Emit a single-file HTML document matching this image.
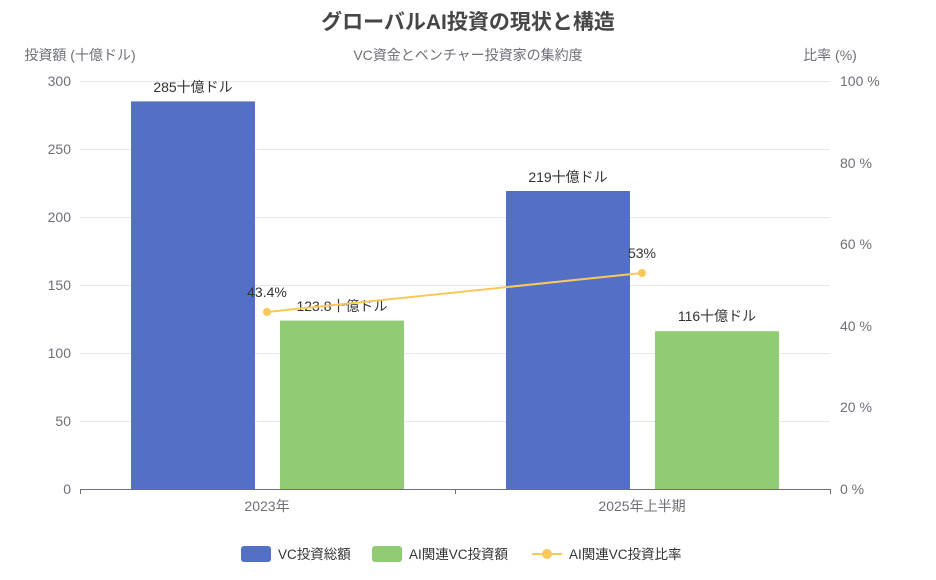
<!DOCTYPE html>
<html><head><meta charset="utf-8"><style>
body{margin:0;background:#fff;}
svg text{font-family:"Liberation Sans","Noto Sans CJK JP",sans-serif;}
</style></head><body>
<svg width="936" height="575" viewBox="0 0 936 575" xmlns="http://www.w3.org/2000/svg">
<text x="468" y="29" text-anchor="middle" font-size="21" font-weight="bold" fill="#464646">グローバルAI投資の現状と構造</text>
<text x="80" y="60" text-anchor="middle" font-size="14" fill="#6e7079">投資額 (十億ドル)</text>
<text x="468" y="60" text-anchor="middle" font-size="14" fill="#6e7079">VC資金とベンチャー投資家の集約度</text>
<text x="830" y="60" text-anchor="middle" font-size="14" fill="#6e7079">比率 (%)</text>
<g stroke="#e6e8f2" stroke-width="1">
<line x1="80" x2="830" y1="81.5" y2="81.5"/><line x1="80" x2="830" y1="149.5" y2="149.5"/>
<line x1="80" x2="830" y1="217.5" y2="217.5"/><line x1="80" x2="830" y1="285.5" y2="285.5"/>
<line x1="80" x2="830" y1="353.5" y2="353.5"/><line x1="80" x2="830" y1="421.5" y2="421.5"/>
</g>
<g font-size="14" fill="#6e7079" text-anchor="end">
<text x="71" y="86">300</text><text x="71" y="154">250</text><text x="71" y="222">200</text>
<text x="71" y="290">150</text><text x="71" y="358">100</text><text x="71" y="426">50</text><text x="71" y="494">0</text>
</g>
<g font-size="14" fill="#6e7079" text-anchor="start">
<text x="840" y="86">100 %</text><text x="840" y="168">80 %</text><text x="840" y="249">60 %</text>
<text x="840" y="331">40 %</text><text x="840" y="412">20 %</text><text x="840" y="494">0 %</text>
</g>
<rect x="131" y="101.4" width="124" height="387.6" fill="#5470c6"/>
<rect x="280" y="320.6" width="124" height="168.4" fill="#91cc75"/>
<rect x="506" y="191" width="124" height="298" fill="#5470c6"/>
<rect x="655" y="331.2" width="124" height="157.8" fill="#91cc75"/>
<line x1="80" x2="830" y1="489.5" y2="489.5" stroke="#6e7079"/>
<g stroke="#6e7079"><line x1="80.5" x2="80.5" y1="489" y2="494"/><line x1="455.5" x2="455.5" y1="489" y2="494"/><line x1="830.5" x2="830.5" y1="489" y2="494"/></g>
<g font-size="14" fill="#6e7079" text-anchor="middle">
<text x="267" y="511">2023年</text><text x="642" y="511">2025年上半期</text>
</g>
<g font-size="14" fill="#333" text-anchor="middle">
<text x="193" y="92">285十億ドル</text>
<text x="342" y="311">123.8十億ドル</text>
<text x="568" y="182">219十億ドル</text>
<text x="717" y="321">116十億ドル</text>
</g>
<line x1="267" y1="312" x2="642" y2="273" stroke="#fac858" stroke-width="2"/>
<circle cx="267" cy="312" r="4" fill="#fac858"/><circle cx="642" cy="273" r="4" fill="#fac858"/>
<g font-size="14" fill="#333" text-anchor="middle">
<text x="267" y="297">43.4%</text><text x="642" y="258">53%</text>
</g>
<g font-size="13.5" fill="#333">
<rect x="241" y="546" width="30" height="16" rx="3" fill="#5470c6"/><text x="278" y="559">VC投資総額</text>
<rect x="372" y="546" width="30" height="16" rx="3" fill="#91cc75"/><text x="409" y="559">AI関連VC投資額</text>
<line x1="532" x2="562" y1="554" y2="554" stroke="#fac858" stroke-width="2"/><circle cx="547" cy="554" r="5" fill="#fac858"/>
<text x="569" y="559">AI関連VC投資比率</text>
</g>
</svg>
</body></html>
